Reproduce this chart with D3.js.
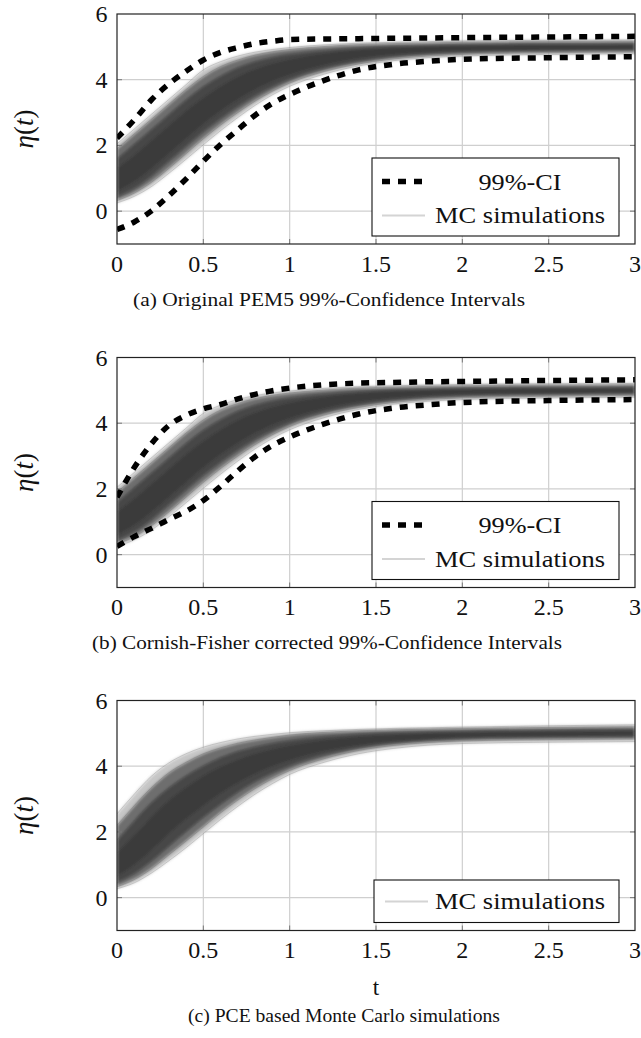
<!DOCTYPE html>
<html>
<head>
<meta charset="utf-8">
<script src="https://cdn.jsdelivr.net/npm/d3@7/dist/d3.min.js"></script>
<style>
html,body{margin:0;padding:0;background:#fff;}
svg{display:block;}
</style>
</head>
<body>
<script>
// ---------- data ----------
const T = [0, 0.1, 0.2, 0.3, 0.4, 0.5, 0.6, 0.7, 0.8, 0.9, 1.0, 1.2, 1.4, 1.6, 1.8, 2.0, 2.5, 3.0];
const xTicks = [0, 0.5, 1, 1.5, 2, 2.5, 3];
const yTicks = [0, 2, 4, 6];
const xTickLabels = ["0", "0.5", "1", "1.5", "2", "2.5", "3"];
const yTickLabels = ["0", "2", "4", "6"];

// MC simulation bundle (panels a and b): boundaries from outer to inner
const mcMax = [2.05, 2.5, 2.95, 3.4, 3.85, 4.3, 4.55, 4.72, 4.84, 4.92, 4.98, 5.06, 5.11, 5.14, 5.16, 5.18, 5.2, 5.21];
const mc95  = [1.9, 2.35, 2.8, 3.25, 3.7, 4.1, 4.4, 4.6, 4.75, 4.85, 4.92, 5.01, 5.07, 5.1, 5.12, 5.14, 5.16, 5.17];
const mc85  = [1.6, 2.05, 2.5, 2.95, 3.4, 3.8, 4.12, 4.38, 4.56, 4.69, 4.78, 4.9, 4.98, 5.03, 5.06, 5.08, 5.1, 5.11];
const mc70  = [1.3, 1.7, 2.15, 2.6, 3.05, 3.45, 3.8, 4.1, 4.32, 4.49, 4.62, 4.8, 4.91, 4.97, 5.01, 5.03, 5.05, 5.06];
const mc30  = [0.6, 0.9, 1.3, 1.75, 2.2, 2.65, 3.05, 3.4, 3.7, 3.95, 4.15, 4.45, 4.65, 4.77, 4.84, 4.88, 4.92, 4.93];
const mc15  = [0.42, 0.68, 1.05, 1.5, 1.95, 2.4, 2.8, 3.17, 3.5, 3.77, 4.0, 4.33, 4.55, 4.69, 4.77, 4.82, 4.86, 4.88];
const mc05  = [0.32, 0.55, 0.88, 1.3, 1.75, 2.2, 2.62, 3.0, 3.35, 3.65, 3.9, 4.25, 4.48, 4.63, 4.72, 4.77, 4.82, 4.84];
const mcMin = [0.25, 0.45, 0.75, 1.15, 1.58, 2.02, 2.45, 2.85, 3.22, 3.54, 3.8, 4.17, 4.42, 4.58, 4.67, 4.72, 4.77, 4.79];

// PCE based MC bundle (panel c)
const pMax = [2.55, 3.15, 3.7, 4.1, 4.38, 4.58, 4.72, 4.83, 4.91, 4.97, 5.02, 5.08, 5.12, 5.15, 5.17, 5.19, 5.23, 5.26];
const p95  = [2.2, 2.8, 3.35, 3.8, 4.12, 4.38, 4.56, 4.7, 4.8, 4.88, 4.95, 5.03, 5.08, 5.11, 5.13, 5.15, 5.18, 5.2];
const p85  = [1.75, 2.35, 2.9, 3.35, 3.72, 4.02, 4.27, 4.46, 4.6, 4.71, 4.79, 4.91, 4.99, 5.03, 5.06, 5.08, 5.11, 5.13];
const p70  = [1.35, 1.9, 2.45, 2.95, 3.35, 3.7, 3.98, 4.2, 4.38, 4.52, 4.63, 4.8, 4.9, 4.96, 5.0, 5.02, 5.05, 5.06];
const p30  = [0.65, 1.0, 1.45, 1.95, 2.4, 2.8, 3.18, 3.5, 3.77, 4.0, 4.18, 4.46, 4.64, 4.76, 4.83, 4.88, 4.92, 4.93];
const p15  = [0.45, 0.72, 1.1, 1.55, 2.0, 2.43, 2.83, 3.2, 3.52, 3.78, 4.0, 4.33, 4.55, 4.69, 4.77, 4.82, 4.86, 4.88];
const p05  = [0.33, 0.55, 0.88, 1.3, 1.72, 2.15, 2.58, 2.97, 3.32, 3.62, 3.87, 4.23, 4.48, 4.63, 4.72, 4.77, 4.81, 4.83];
const pMin = [0.27, 0.45, 0.75, 1.12, 1.52, 1.95, 2.38, 2.78, 3.15, 3.47, 3.75, 4.12, 4.38, 4.54, 4.64, 4.69, 4.73, 4.75];

// 99%-CI bounds
const ci1Upper = [2.22, 2.78, 3.39, 3.87, 4.26, 4.6, 4.83, 4.98, 5.1, 5.17, 5.22, 5.24, 5.25, 5.26, 5.27, 5.28, 5.3, 5.32];
const ci1Lower = [-0.56, -0.33, 0.01, 0.47, 0.98, 1.52, 2.03, 2.48, 2.92, 3.28, 3.55, 3.98, 4.3, 4.47, 4.56, 4.62, 4.67, 4.7];
const ci2Upper = [1.75, 2.65, 3.38, 3.93, 4.24, 4.44, 4.57, 4.74, 4.88, 4.99, 5.07, 5.17, 5.22, 5.24, 5.26, 5.27, 5.3, 5.32];
const ci2Lower = [0.25, 0.55, 0.8, 1.07, 1.32, 1.65, 2.08, 2.55, 2.98, 3.32, 3.58, 3.98, 4.28, 4.46, 4.56, 4.63, 4.69, 4.72];

const captions = [
  "(a) Original PEM5 99%-Confidence Intervals",
  "(b) Cornish-Fisher corrected 99%-Confidence Intervals",
  "(c) PCE based Monte Carlo simulations"
];
const legendCI = "99%-CI";
const legendMC = "MC simulations";

// ---------- layout ----------
const W = 641, H = 1038;
const svg = d3.select("body").append("svg").attr("width", W).attr("height", H);
const serif = "Liberation Serif, Tinos, Times New Roman, Times, DejaVu Serif, serif";

const defs = svg.append("defs");
defs.append("filter").attr("id", "soft").attr("x", "-5%").attr("y", "-5%").attr("width", "110%").attr("height", "110%")
  .append("feGaussianBlur").attr("stdDeviation", 1.6);

const plotLeft = 117, plotRight = 635, plotH = 230;
const panels = [
  {top: 14,    env: [mcMin, mc05, mc15, mc30, mc70, mc85, mc95, mcMax], ci: [ci1Upper, ci1Lower],
   cap: {x: 133, y: 306, len: 392}},
  {top: 357.5, env: [mcMin, mc05, mc15, mc30, mc70, mc85, mc95, mcMax], ci: [ci2Upper, ci2Lower],
   cap: {x: 92, y: 649, len: 470}},
  {top: 700.5, env: [pMin, p05, p15, p30, p70, p85, p95, pMax], ci: null,
   cap: {x: 188, y: 1022, len: 312}}
];
const bandColors = ["#c6c6c6", "#6e6e6e", "#474747", "#3a3a3a"];

panels.forEach((p, i) => {
  const g = svg.append("g");
  const x = d3.scaleLinear().domain([0, 3]).range([plotLeft, plotRight]);
  const y = d3.scaleLinear().domain([-1, 6]).range([p.top + plotH, p.top]);
  const clipId = "clip" + i;
  defs.append("clipPath").attr("id", clipId).append("rect")
    .attr("x", plotLeft).attr("y", p.top).attr("width", plotRight - plotLeft).attr("height", plotH);

  // grid
  g.append("g").selectAll("line").data(xTicks.slice(1, -1)).join("line")
    .attr("x1", d => x(d)).attr("x2", d => x(d)).attr("y1", p.top).attr("y2", p.top + plotH)
    .attr("stroke", "#cfcfcf").attr("stroke-width", 1.2);
  g.append("g").selectAll("line").data(yTicks.filter(d => d < 6)).join("line")
    .attr("y1", d => y(d)).attr("y2", d => y(d)).attr("x1", plotLeft).attr("x2", plotRight)
    .attr("stroke", "#cfcfcf").attr("stroke-width", 1.2);

  // MC bundle
  const data = g.append("g").attr("clip-path", `url(#${clipId})`);
  const bands = data.append("g").attr("filter", "url(#soft)");
  const env = p.env;
  for (let k = 0; k < 4; k++) {
    const lo = env[k], hi = env[7 - k];
    const area = d3.area().x((d, j) => x(T[j])).y0((d, j) => y(lo[j])).y1((d, j) => y(hi[j]))
      .curve(d3.curveMonotoneX);
    bands.append("path").attr("d", area(T)).attr("fill", bandColors[k]);
  }
  env.forEach((arr) => {
    const line = d3.line().x((d, j) => x(T[j])).y((d, j) => y(arr[j])).curve(d3.curveMonotoneX);
    data.append("path").attr("d", line(T)).attr("fill", "none")
      .attr("stroke", "#505050").attr("stroke-opacity", 0.2).attr("stroke-width", 1);
  });

  // CI bounds
  if (p.ci) {
    p.ci.forEach(arr => {
      const line = d3.line().x((d, j) => x(T[j])).y((d, j) => y(arr[j])).curve(d3.curveMonotoneX);
      data.append("path").attr("d", line(T)).attr("fill", "none")
        .attr("stroke", "#000").attr("stroke-width", 5.5).attr("stroke-dasharray", "8,8");
    });
  }

  // inner ticks
  const tk = g.append("g").attr("stroke", "#777").attr("stroke-width", 1);
  xTicks.slice(1, -1).forEach(d => {
    tk.append("line").attr("x1", x(d)).attr("x2", x(d)).attr("y1", p.top + plotH).attr("y2", p.top + plotH - 5);
    tk.append("line").attr("x1", x(d)).attr("x2", x(d)).attr("y1", p.top).attr("y2", p.top + 5);
  });
  yTicks.filter(d => d < 6).forEach(d => {
    tk.append("line").attr("y1", y(d)).attr("y2", y(d)).attr("x1", plotLeft).attr("x2", plotLeft + 5);
    tk.append("line").attr("y1", y(d)).attr("y2", y(d)).attr("x1", plotRight).attr("x2", plotRight - 5);
  });

  // frame
  g.append("rect").attr("x", plotLeft).attr("y", p.top).attr("width", plotRight - plotLeft).attr("height", plotH)
    .attr("fill", "none").attr("stroke", "#222").attr("stroke-width", 1.2);

  // tick labels
  g.append("g").selectAll("text").data(xTicks).join("text")
    .attr("x", d => x(d)).attr("y", p.top + plotH + 27.5)
    .attr("text-anchor", "middle").style("font-family", serif).attr("font-size", 24).attr("fill", "#111")
    .text((d, j) => xTickLabels[j]);
  g.append("g").selectAll("text").data(yTicks).join("text")
    .attr("x", 107.5).attr("y", d => y(d) + 8)
    .attr("text-anchor", "end").style("font-family", serif).attr("font-size", 24).attr("fill", "#111")
    .text((d, j) => yTickLabels[j]);

  // y label
  const yl = g.append("text").attr("transform", `translate(33,${p.top + plotH / 2}) rotate(-90)`)
    .attr("text-anchor", "middle").style("font-family", serif).attr("font-size", 27).attr("fill", "#111");
  yl.append("tspan").attr("font-style", "italic").text("η");
  yl.append("tspan").text("(");
  yl.append("tspan").attr("font-style", "italic").text("t");
  yl.append("tspan").text(")");

  // legend
  const lg = g.append("g");
  if (p.ci) {
    const lt = p.top + plotH - 86;
    lg.append("rect").attr("x", 372).attr("y", lt).attr("width", 247).attr("height", 78)
      .attr("fill", "#fff").attr("stroke", "#111").attr("stroke-width", 1.1);
    lg.append("line").attr("x1", 382).attr("x2", 422).attr("y1", lt + 23.5).attr("y2", lt + 23.5)
      .attr("stroke", "#000").attr("stroke-width", 5.5).attr("stroke-dasharray", "8,8");
    lg.append("line").attr("x1", 382).attr("x2", 425).attr("y1", lt + 57.5).attr("y2", lt + 57.5)
      .attr("stroke", "#d4d4d4").attr("stroke-width", 2);
    lg.append("text").attr("x", 520).attr("y", lt + 31.5).attr("text-anchor", "middle")
      .style("font-family", serif).attr("font-size", 23).attr("fill", "#111")
      .attr("textLength", 83).attr("lengthAdjust", "spacingAndGlyphs").text(legendCI);
    lg.append("text").attr("x", 520).attr("y", lt + 65).attr("text-anchor", "middle")
      .style("font-family", serif).attr("font-size", 23).attr("fill", "#111")
      .attr("textLength", 170).attr("lengthAdjust", "spacingAndGlyphs").text(legendMC);
  } else {
    const lt = p.top + plotH - 50.5;
    lg.append("rect").attr("x", 374).attr("y", lt).attr("width", 245).attr("height", 42.5)
      .attr("fill", "#fff").attr("stroke", "#111").attr("stroke-width", 1.1);
    lg.append("line").attr("x1", 385).attr("x2", 428).attr("y1", lt + 21.5).attr("y2", lt + 21.5)
      .attr("stroke", "#d4d4d4").attr("stroke-width", 2);
    lg.append("text").attr("x", 520).attr("y", lt + 29).attr("text-anchor", "middle")
      .style("font-family", serif).attr("font-size", 23).attr("fill", "#111")
      .attr("textLength", 170).attr("lengthAdjust", "spacingAndGlyphs").text(legendMC);
  }

  // caption
  g.append("text").attr("x", p.cap.x).attr("y", p.cap.y)
    .style("font-family", serif).attr("font-size", 18.5).attr("fill", "#111")
    .attr("textLength", p.cap.len).attr("lengthAdjust", "spacingAndGlyphs").text(captions[i]);
});

svg.append("text").attr("x", 376).attr("y", 995).attr("text-anchor", "middle")
  .style("font-family", serif).attr("font-size", 23).attr("fill", "#111").text("t");
</script>
</body>
</html>
